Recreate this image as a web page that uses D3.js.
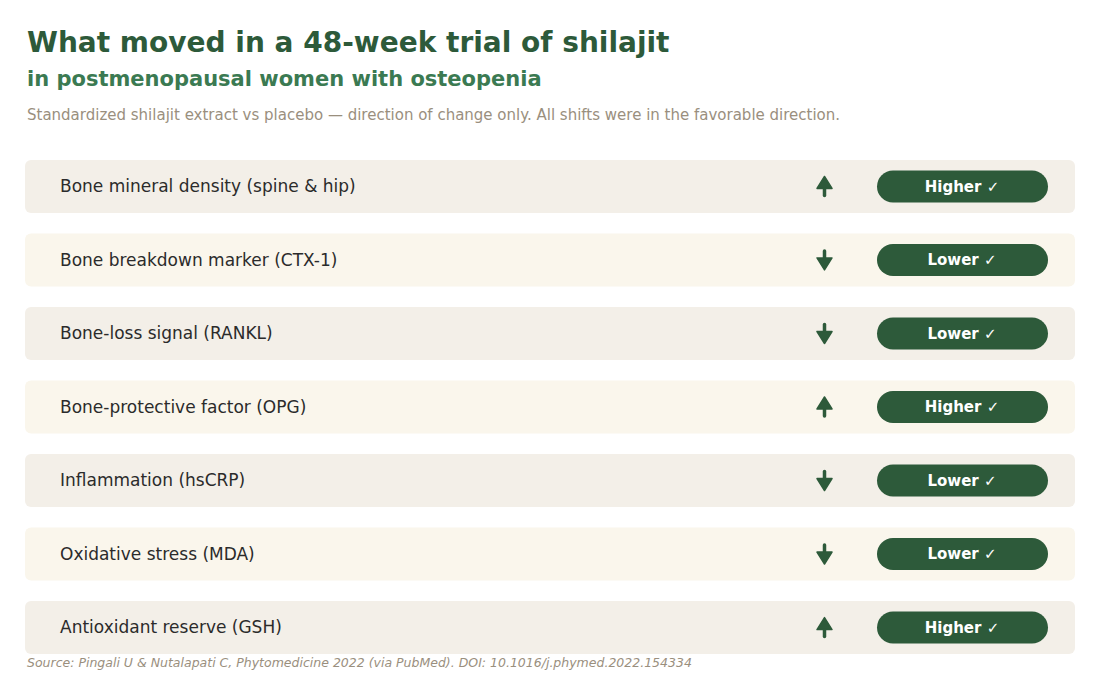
<!DOCTYPE html>
<html><head><meta charset="utf-8">
<script src="https://cdn.jsdelivr.net/npm/d3@7"></script>
<style>body{margin:0;background:#fff}svg{font-family:"DejaVu Sans",sans-serif}</style>
</head><body><svg id="c" width="1100" height="690"></svg>
<script>
const categories = ["Bone mineral density (spine & hip)","Bone breakdown marker (CTX-1)","Bone-loss signal (RANKL)","Bone-protective factor (OPG)","Inflammation (hsCRP)","Oxidative stress (MDA)","Antioxidant reserve (GSH)"];
const directions = ["up","down","down","up","down","down","up"];
const labels = ["Higher ✓","Lower ✓","Lower ✓","Higher ✓","Lower ✓","Lower ✓","Higher ✓"];

const svg = d3.select("#c");
const green = "#2d5a3a";
svg.append("text").attr("x",27).attr("y",52).attr("font-size",28).attr("font-weight","bold").attr("fill",green).text("What moved in a 48-week trial of shilajit");
svg.append("text").attr("x",27).attr("y",86).attr("font-size",21).attr("font-weight","bold").attr("fill","#3b7a52").text("in postmenopausal women with osteopenia");
svg.append("text").attr("x",27).attr("y",120).attr("font-size",15).attr("fill","#9a8f7e").text("Standardized shilajit extract vs placebo — direction of change only. All shifts were in the favorable direction.");

const y = d3.scaleBand().domain(categories).range([160,654]).paddingInner(0.28);
const g = svg.selectAll("g.row").data(categories).join("g").attr("class","row")
  .attr("transform",d=>`translate(0,${y(d)})`);
const h = y.bandwidth();
g.append("rect").attr("x",25).attr("width",1050).attr("height",h).attr("rx",6)
  .attr("fill",(d,i)=>i%2? "#faf6ec":"#f3efe8");
g.append("text").attr("x",60).attr("y",h/2).attr("dy","0.35em").attr("font-size",17).attr("fill","#2b2b2b").text(d=>d);
g.each(function(d,i){
  const s = d3.select(this), cx=824.5, cy=h/2, up = directions[i]==="up";
  const sgn = up?1:-1;
  s.append("line").attr("x1",cx).attr("x2",cx).attr("y1",cy-2*sgn).attr("y2",cy+9*sgn)
    .attr("stroke",green).attr("stroke-width",3.5).attr("stroke-linecap","round");
  s.append("path").attr("d",`M${cx},${cy-10*sgn} L${cx-7.5},${cy+2*sgn} L${cx+7.5},${cy+2*sgn}Z`)
    .attr("fill",green).attr("stroke",green).attr("stroke-width",1.5).attr("stroke-linejoin","round");
  s.append("rect").attr("x",877).attr("y",cy-16).attr("width",171).attr("height",32).attr("rx",16).attr("fill",green);
  s.append("text").attr("x",962).attr("y",cy).attr("dy","0.35em").attr("text-anchor","middle")
    .attr("font-size",15).attr("font-weight","bold").attr("fill","#fff").text(labels[i]);
});
svg.append("text").attr("x",27).attr("y",667).attr("font-size",12.5).attr("font-style","italic").attr("fill","#9a8f7e")
  .text("Source: Pingali U & Nutalapati C, Phytomedicine 2022 (via PubMed). DOI: 10.1016/j.phymed.2022.154334");
</script></body></html>
